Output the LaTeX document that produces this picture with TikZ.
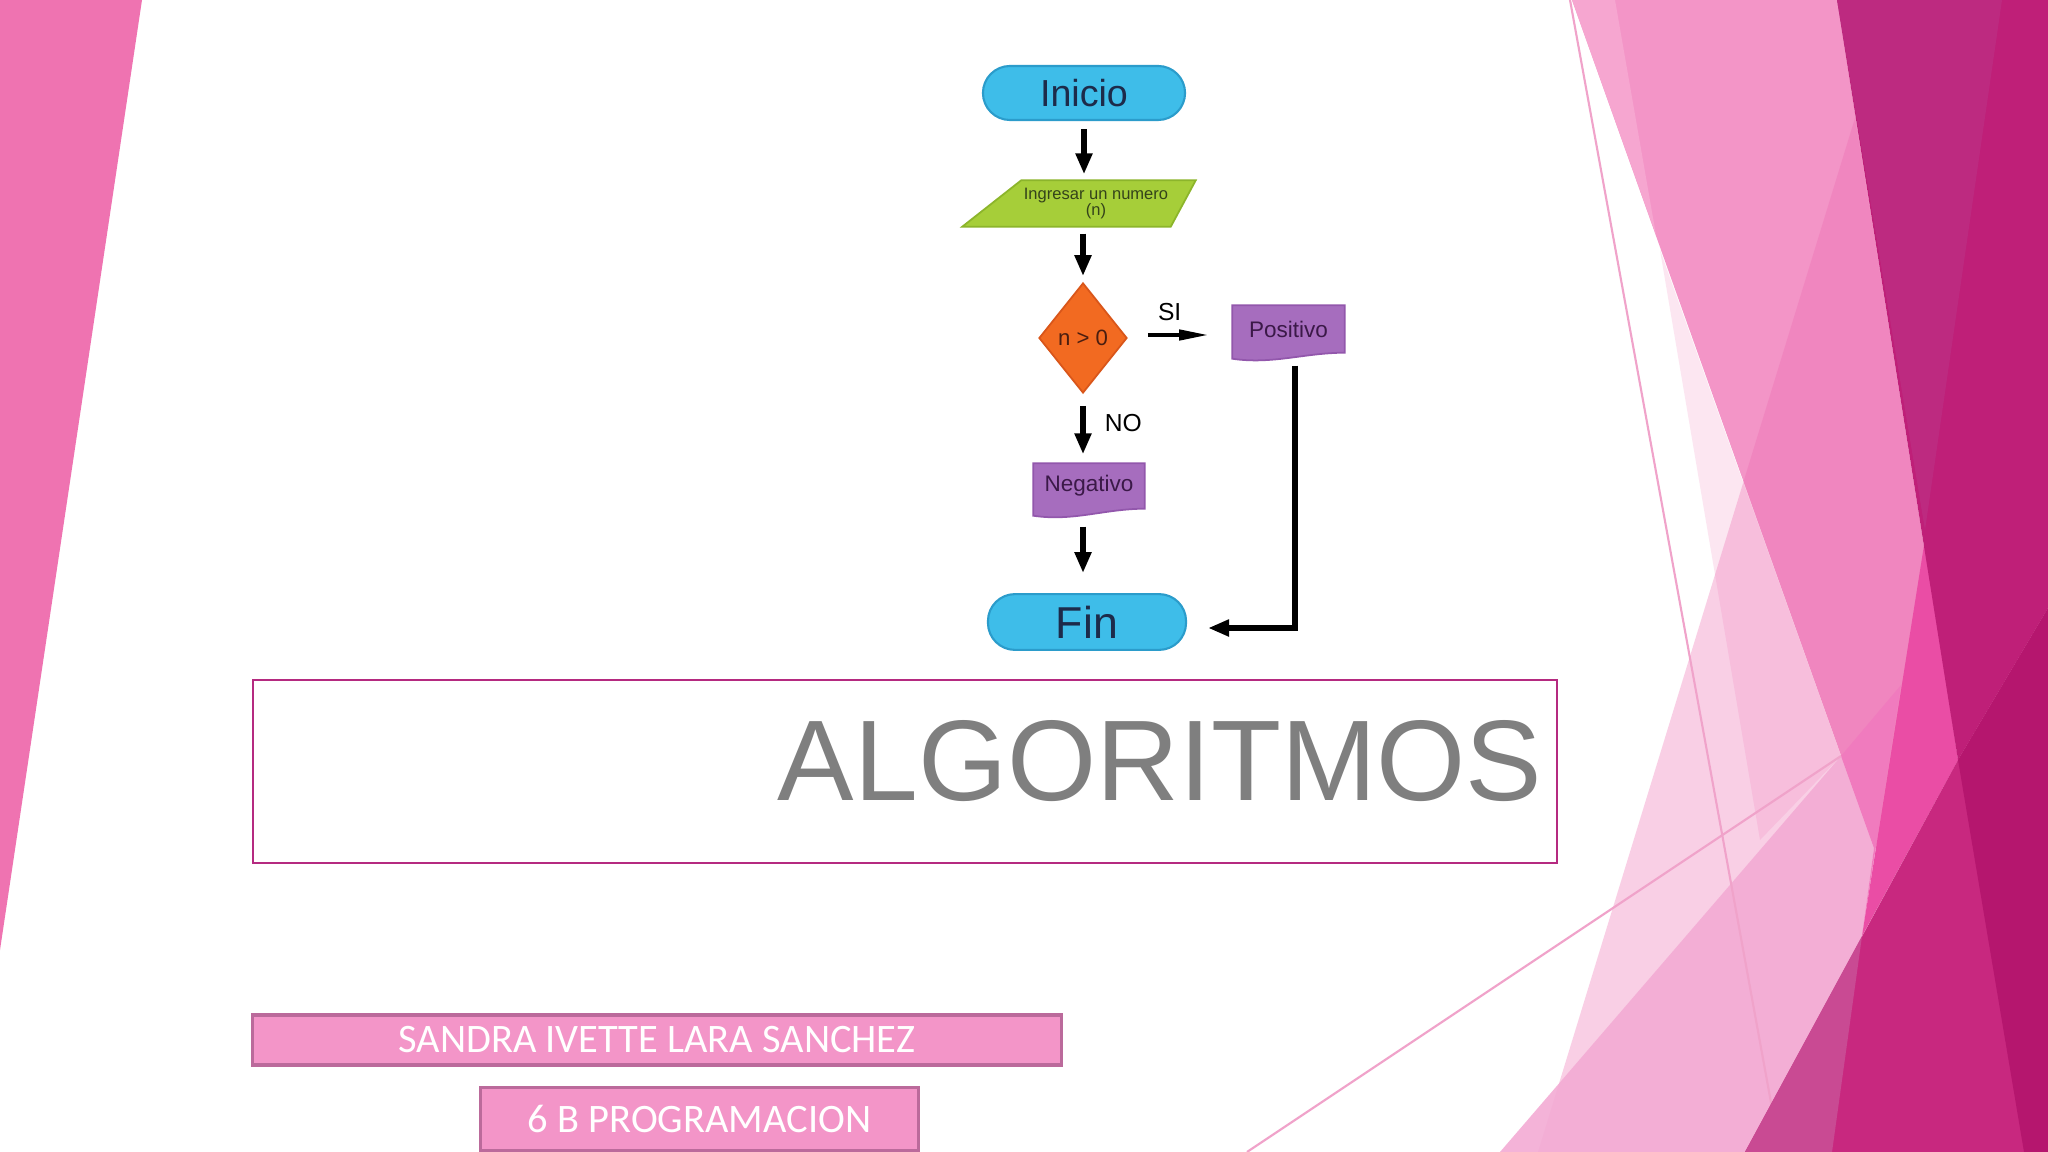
\documentclass[tikz,border=0pt]{standalone}
\usepackage{fontspec}
\setmainfont{Liberation Sans}
\newfontfamily\namefont{Carlito}
\usetikzlibrary{arrows.meta, positioning, shapes.geometric, backgrounds}

% slide colours
\definecolor{bandpink}{HTML}{EF73B1}
\definecolor{facetA}{HTML}{F395C7}
\definecolor{facetsliver}{HTML}{F6A6D0}
\definecolor{facetpale}{HTML}{FCE6F1}
\definecolor{facetveil}{HTML}{EC67AE}
\definecolor{facetlow}{HTML}{F3ABD4}
\definecolor{facetmid}{HTML}{F07BBE}
\definecolor{facethot}{HTML}{EA4DA5}
\definecolor{facetdark}{HTML}{BF1F78}
\definecolor{facetdarkb}{HTML}{BD2A80}
\definecolor{facetband}{HTML}{C8287F}
\definecolor{facetdeep}{HTML}{B5166E}
\definecolor{facetmauve}{HTML}{C94A93}
\definecolor{thinline}{HTML}{F0A3CA}
\definecolor{framecol}{HTML}{B52A80}
\definecolor{titlegray}{HTML}{7F7F7F}
\definecolor{namefill}{HTML}{F395C8}
\definecolor{nameedge}{HTML}{BB6A9B}
% flowchart colours
\definecolor{termfill}{HTML}{3EBDE9}
\definecolor{termedge}{HTML}{2B9CCB}
\definecolor{navytext}{HTML}{1D2B4A}
\definecolor{greenfill}{HTML}{A6CE39}
\definecolor{greenedge}{HTML}{8CB52B}
\definecolor{greentext}{HTML}{34431A}
\definecolor{orangefill}{HTML}{F26A21}
\definecolor{orangeedge}{HTML}{D9561A}
\definecolor{browntext}{HTML}{4A1E10}
\definecolor{docfill}{HTML}{A66DBE}
\definecolor{docedge}{HTML}{9257AC}
\definecolor{doctext}{HTML}{3B1948}

\begin{document}
\begin{tikzpicture}[
    x=0.01cm, y=-0.01cm, % one unit = one pixel of the slide, y downwards
    terminal/.style={rectangle, rounded corners=0.27cm, fill=termfill, draw=termedge, line width=0.6pt,
        minimum width=2.02cm, minimum height=0.54cm, text=navytext, font=\fontsize{10.7}{12}\selectfont}, % Inicio / Fin
    inputbox/.style={rectangle, minimum width=1.48cm, minimum height=0.45cm, inner sep=0pt, align=center,
        text=greentext, font=\fontsize{4.7}{4.6}\selectfont}, % body of the parallelogram
    decision/.style={diamond, fill=orangefill, draw=orangeedge, line width=0.5pt, minimum width=0.88cm,
        minimum height=1.1cm, inner sep=0pt, text=browntext, font=\fontsize{6.3}{7}\selectfont}, % test
    docbox/.style={rectangle, minimum width=1.11cm, minimum height=0.46cm, inner sep=0pt,
        text=doctext, font=\fontsize{6.4}{7}\selectfont}, % body of the document shapes
    flow/.style={-{Triangle[width=0.16cm, length=0.21cm]}, line width=1.6pt, black}, % thick arrows
    siflow/.style={-{Triangle[width=0.1cm, length=0.3cm]}, line width=1.2pt, black}, % thin arrow to SI
    tag/.style={inner sep=0pt, font=\fontsize{7}{8}\selectfont}, % SI / NO
    facetline/.style={thinline, line width=0.6pt}, % thin lines of the theme
    titlebox/.style={rectangle, draw=framecol, line width=0.6pt, minimum width=13.04cm, minimum height=1.83cm},
    titletext/.style={inner sep=0pt, text=titlegray, font=\fontsize{32.6}{34}\selectfont},
    namebox/.style={rectangle, fill=namefill, draw=nameedge, line width=0.9pt, text=white,
        font=\namefont\fontsize{11.5}{12}\selectfont}
]
    \useasboundingbox (0,0) rectangle (2048,1152);
    \begin{scope}[on background layer]
        \fill[white] (0,0) rectangle (2048,1152);
    \end{scope}

    % --- Left band ---
    \fill[bandpink] (0,0) -- (142,0) -- (0,950) -- cycle;

    % --- Right facets ---
    \fill[facetA] (1572,0) -- (1837,0) -- (1958,760) -- (1874,848) -- cycle;
    \fill[facetsliver] (1572,0) -- (1615,0) -- (1656,235) -- cycle;
    \fill[facetpale] (1660,250) -- (1760,840) -- (1841,756) -- cycle;
    \fill[facetveil, opacity=0.31] (1855,118) -- (1538,1152) -- (1800,1152) -- (1958,760) -- cycle;
    \fill[facetlow, opacity=0.9] (1841,756) -- (1500,1152) -- (1745,1152) -- (1862,936) -- (1874,848) -- cycle;
    \fill[facetmid] (1841,756) -- (1901,685) -- (1862,936) -- (1874,848) -- cycle;
    \draw[facetline] (1570,0) -- (1780,1152);
    \draw[facetline] (1247,1152) -- (1841,756);
    \fill[facethot] (1925,539) -- (1958,760) -- (1862,936) -- cycle;
    \fill[facetdark] (1837,0) -- (2048,0) -- (2048,608) -- (1958,760) -- cycle;
    \fill[facetdarkb] (1837,0) -- (2002,0) -- (1925,530) -- cycle;
    \fill[facetband] (1745,1152) -- (2048,1152) -- (2048,608) -- (1958,760) -- cycle;
    \fill[facetdeep] (1958,760) -- (2048,608) -- (2048,1152) -- (2024,1152) -- cycle;
    \fill[facetmauve] (1745,1152) -- (1832,1152) -- (1862,936) -- cycle;

    % --- Title ---
    \node[titlebox] (marco) at (905,771.5) {};
    \node[titletext, anchor=base east] (titulo) at (1543,800) {ALGORITMOS};

    % --- Name and group ---
    \node[namebox, minimum width=8.08cm, minimum height=0.5cm] (alumna) at (657,1040) {SANDRA IVETTE LARA SANCHEZ};
    \node[namebox, minimum width=4.37cm, minimum height=0.63cm] (grupo) at (699.5,1119) {6 B PROGRAMACION};

    % --- Flowchart ---
    \node[terminal] (inicio) at (1084,93) {Inicio};
    \node[inputbox] (entrada) at (1096,203.5) {Ingresar un numero\\(n)};
    \node[decision] (decision) at (1083,338) {n > 0};
    \node[docbox] (positivo) at (1288.5,329) {Positivo};
    \node[docbox, minimum width=1.10cm, minimum height=0.44cm] (negativo) at (1089,486) {Negativo};
    \node[terminal, font=\fontsize{12.7}{14}\selectfont, minimum width=1.98cm] (fin) at (1087,622) {Fin};

    % shapes behind the text nodes
    \begin{scope}[on background layer]
        \filldraw[fill=greenfill, draw=greenedge, line width=0.5pt] (entrada.north west) -- ([xshift=0.25cm]entrada.north east)
            -- (entrada.south east) -- ([xshift=-0.59cm]entrada.south west) -- cycle;
        \filldraw[fill=docfill, draw=docedge, line width=0.5pt] (positivo.north west) -- (positivo.north east) -- (positivo.south east)
            .. controls +(-40,0) and +(40,6) .. ([yshift=-0.06cm]positivo.south west) -- cycle;
        \filldraw[fill=docfill, draw=docedge, line width=0.5pt] (negativo.north west) -- (negativo.north east) -- (negativo.south east)
            .. controls +(-40,0) and +(40,6) .. ([yshift=-0.07cm]negativo.south west) -- cycle;
    \end{scope}

    % connectors
    \draw[flow, shorten <=0.08cm, shorten >=0.06cm] (inicio.south) -- (inicio.south |- entrada.north);
    \draw[flow, shorten <=0.07cm, shorten >=0.06cm] (entrada.south -| decision.north) -- (decision.north);
    \draw[siflow, shorten <=0.2cm, shorten >=0.23cm] ([yshift=0.03cm]decision.east) -- ([yshift=0.03cm]decision.east -| positivo.west)
        node[tag, pos=0.4, above=0.12cm] (si) {SI};
    \draw[flow, shorten <=0.12cm, shorten >=0.09cm] (decision.south) -- (decision.south |- negativo.north)
        node[tag, pos=0.42, right=0.19cm] (no) {NO};
    \draw[flow, shorten <=0.18cm, shorten >=0.2cm] (decision.south |- negativo.south) -- (decision.south |- fin.north);
    \draw[flow, shorten <=0.13cm, shorten >=0.21cm] ([xshift=0.065cm]positivo.south) |- ([yshift=-0.06cm]fin.east);

\end{tikzpicture}
\end{document}
